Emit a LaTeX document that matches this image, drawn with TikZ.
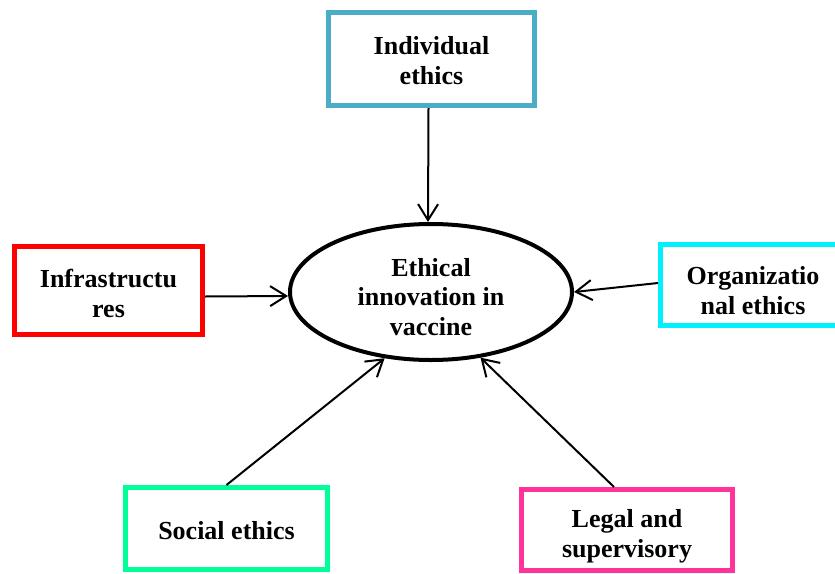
\documentclass[tikz,border=0pt]{standalone}
\usepackage{fontspec}
\setmainfont{Liberation Serif}
\usetikzlibrary{arrows.meta,shapes.geometric}

\definecolor{indblue}{HTML}{4BACC6}
\definecolor{infred}{HTML}{FF0000}
\definecolor{orgcyan}{HTML}{00F0FF}
\definecolor{socgreen}{HTML}{00FF99}
\definecolor{legpink}{HTML}{FF3399}

\newcommand{\topgap}[1]{\rule{0pt}{#1}}

\begin{document}
\begin{tikzpicture}[x=1pt,y=-1pt]

\tikzstyle{factor} = [rectangle,draw,line width=5pt,inner sep=0,align=center,font=\fontsize{26}{30}\selectfont\bfseries]%
\tikzstyle{core} = [ellipse,draw=black,line width=4pt,inner sep=0,minimum width=282pt,minimum height=136pt,align=center,font=\fontsize{26}{29.5}\selectfont\bfseries]%
\tikzstyle{influence} = [-{Straight Barb[length=16pt,width=20pt]},line width=2pt]%

\useasboundingbox (0,0) rectangle (835,573);

\node[core] (vac) at (431, 292) {\topgap{28pt}Ethical\\innovation in\\vaccine};

\node[factor,draw=indblue,minimum width=206pt,minimum height=93pt] (ind) at (431.5, 59) {\topgap{22pt}Individual\\ethics};
\node[factor,draw=infred,minimum width=188pt,minimum height=88pt] (infra) at (108.5, 290.5) {\topgap{24pt}Infrastructu\\res};
\node[factor,draw=orgcyan,minimum width=185pt,minimum height=81pt] (org) at (753, 285) {\topgap{30pt}Organizatio\\nal ethics};
\node[factor,draw=socgreen,minimum width=202pt,minimum height=82pt] (soc) at (226.5, 528.5) {\topgap{22pt}Social ethics};
\node[factor,draw=legpink,minimum width=211pt,minimum height=81pt] (leg) at (627, 530) {\topgap{30pt}Legal and\\supervisory};

\draw[influence] ([xshift=-3pt]ind.south) -- ([xshift=-3pt]vac.north);
\draw[influence] ([yshift=-6pt]infra.east) -- ([yshift=-4pt]vac.west);
\draw[influence] ([yshift=2pt]org.west) -- (vac.east);
\draw[influence] (soc.north) -- (vac.235);
\draw[influence] ([xshift=-13pt]leg.north) -- (vac.307);

\end{tikzpicture}
\end{document}
